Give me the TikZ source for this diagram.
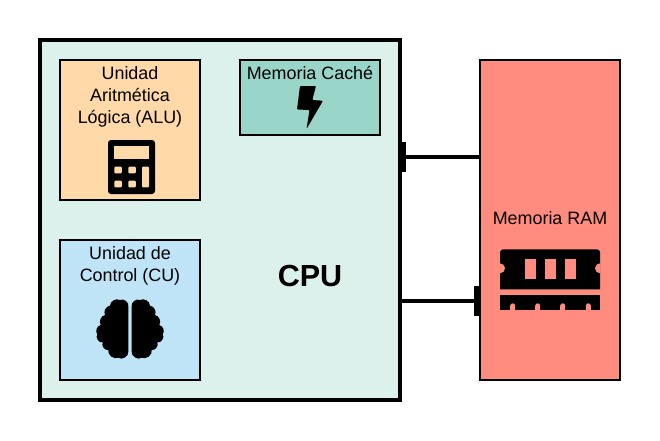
\documentclass[tikz,border=0pt]{standalone}
\usepackage{fontspec}
\setmainfont{Liberation Sans}
\usetikzlibrary{arrows.meta, positioning}

\definecolor{cpufill}{HTML}{DDF1EC}
\definecolor{alufill}{HTML}{FFD9A8}
\definecolor{cachefill}{HTML}{9AD5C9}
\definecolor{cufill}{HTML}{BFE3F7}
\definecolor{ramfill}{HTML}{FF8C7F}

\begin{document}
\begin{tikzpicture}[
    x=1pt, y=-1pt,
    unit/.style={draw, rectangle, line width=2pt, inner sep=0pt, outer sep=0pt},
    title/.style={align=center, inner sep=0pt, font=\fontsize{17.9}{22}\selectfont},
    link/.style={line width=4pt},
    port/.tip={Rectangle[length=6pt, width=30pt, line width=0pt]}
]
\useasboundingbox (0,0) rectangle (660,440);

% Main boxes
\node[unit, line width=4pt, fill=cpufill, minimum width=360pt, minimum height=360pt] (cpu) at (220,220) {};
\node[unit, fill=ramfill, minimum width=140pt, minimum height=320pt] (ram) at (550,220) {};

% Inner boxes
\node[unit, fill=alufill, minimum width=140pt, minimum height=140pt] (alu) at (130,130) {};
\node[unit, fill=cachefill, minimum width=140pt, minimum height=75pt] (cache) at (310,97.5) {};
\node[unit, fill=cufill, minimum width=140pt, minimum height=140pt] (cu) at (130,310) {};

% Labels
\node[title, below=6.5pt of alu.north] (alutext) {Unidad\\Aritmética\\Lógica (ALU)};
\node[title, below=6.5pt of cache.north] (cachetext) {Memoria Caché};
\node[title, below=6.5pt of cu.north] (cutext) {Unidad de\\Control (CU)};
\node[title] (ramtext) at (550,218) {Memoria RAM};
\node[font=\fontsize{30.5}{32}\selectfont\bfseries, inner sep=0pt] (cputext) at (310,276) {CPU};

% Calculator
\fill[rounded corners=3pt] (108,140) rectangle (155,194);
\fill[alufill] (114.3,146) rectangle (149,159.3);
\foreach \bx in {114.3,128.3}
  \foreach \by in {166.7,180.7}
    \fill[alufill, rounded corners=1pt] (\bx,\by) rectangle ++(7.5,6.6);
\fill[alufill, rounded corners=1pt] (142,166.7) rectangle (149,187.3);

% Brain
\foreach \flip/\off in {1/0,-1/260}
  \fill[shift={(\off,0)}, xscale=\flip] (128.3,351.7) -- (128.3,306.7)
    to[bend right=70] (120,300) to[bend right=60] (110,305.7)
    to[bend right=55] (105,315) to[bend right=55] (100.7,325)
    to[bend right=60] (97.3,334.3) to[bend right=80] (102.7,342.3)
    to[bend right=65] (108.3,350) to[bend right=65] (118.3,357.7)
    to[bend right=70] cycle;

% Bolt
\fill[rounded corners=1pt] (300,86) -- (316,86) -- (312.3,100) -- (323,100.7)
  -- (306.5,129) -- (309.5,110) -- (297,109.5) -- cycle;

% Memory module
\fill (500,289.3) -- (500,252.3) arc[start angle=180, end angle=90, radius=3pt] -- (597,249.3)
  arc[start angle=90, end angle=0, radius=3pt] -- (600,289.3) -- cycle;
\fill (500,295) rectangle (600,310);
\fill[ramfill] (500,268.3) ++(0,-5) arc[start angle=90, end angle=-90, radius=5pt] -- cycle;
\fill[ramfill] (600,268.3) ++(0,-5) arc[start angle=90, end angle=270, radius=5pt] -- cycle;
\foreach \wx in {525.3,545.3,565.3}
  \fill[ramfill] (\wx,259.3) rectangle ++(10.4,20);
\foreach \nx in {512.7,537.7,562.7,588.3}
  \fill[ramfill] (\nx-2.5,311) -- (\nx-2.5,305.8) arc[start angle=180, end angle=0, radius=2.5pt] -- (\nx+2.5,311) -- cycle;

% Connectors
\draw[link, {port}-] ([yshift=63pt]cpu.east) -- ([yshift=63pt]ram.west);
\draw[link, -{port}] ([yshift=-81pt]cpu.east) -- ([yshift=-81pt]ram.west);

\end{tikzpicture}
\end{document}
